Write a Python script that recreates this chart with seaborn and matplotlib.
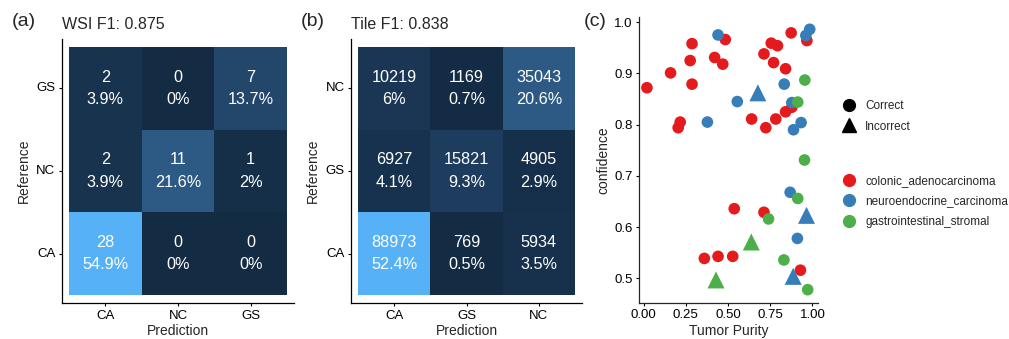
import numpy as np
import pandas as pd
import seaborn as sns
import matplotlib.pyplot as plt
from matplotlib.colors import LinearSegmentedColormap
from matplotlib.lines import Line2D

# =========================
# DATA
# =========================

# (a) WSI confusion matrix, rows top->bottom, cols left->right
wsi_rows = ["GS", "NC", "CA"]
wsi_cols = ["CA", "NC", "GS"]
wsi_counts = [[2, 0, 7],
              [2, 11, 1],
              [28, 0, 0]]

# (b) tile confusion matrix
tile_rows = ["NC", "GS", "CA"]
tile_cols = ["CA", "GS", "NC"]
tile_counts = [[10219, 1169, 35043],
               [6927, 15821, 4905],
               [88973, 769, 5934]]

# (c) scatter: tumor purity vs confidence
red_x = [0.02, 0.16, 0.276, 0.287, 0.287, 0.205, 0.217, 0.421, 0.469, 0.484,
         0.537, 0.36, 0.441, 0.528, 0.64, 0.713, 0.724, 0.713, 0.756, 0.77,
         0.793, 0.783, 0.841, 0.841, 0.878, 0.874, 0.967, 0.929]
red_y = [0.872, 0.901, 0.925, 0.958, 0.879, 0.794, 0.805, 0.931, 0.918, 0.966,
         0.636, 0.539, 0.543, 0.543, 0.811, 0.938, 0.794, 0.629, 0.959, 0.921,
         0.954, 0.811, 0.909, 0.825, 0.834, 0.979, 0.964, 0.516]
red_ok = ["Correct"] * 28

blue_x = [0.441, 0.555, 0.378, 0.833, 0.878, 0.888, 0.933, 0.961, 0.984, 0.868,
          0.911, 0.677, 0.965, 0.886]
blue_y = [0.975, 0.845, 0.805, 0.879, 0.843, 0.79, 0.804, 0.974, 0.986, 0.668,
          0.578, 0.862, 0.623, 0.504]
blue_ok = ["Correct"] * 11 + ["Incorrect"] * 3

green_x = [0.955, 0.913, 0.953, 0.913, 0.74, 0.831, 0.972, 0.638, 0.429]
green_y = [0.887, 0.844, 0.731, 0.656, 0.616, 0.536, 0.478, 0.571, 0.497]
green_ok = ["Correct"] * 7 + ["Incorrect"] * 2

tumor_types = ["colonic_adenocarcinoma", "neuroendocrine_carcinoma", "gastrointestinal_stromal"]
type_colors = ["#E41A1C", "#377EB8", "#4DAF4A"]

# =========================
# STYLE
# =========================

sns.set_style("ticks")
plt.rcParams["font.family"] = ["Liberation Sans", "DejaVu Sans"]
plt.rcParams["axes.linewidth"] = 0.9
plt.rcParams["xtick.major.width"] = 0.8
plt.rcParams["ytick.major.width"] = 0.8

gg_cmap = LinearSegmentedColormap.from_list(
    "gg", ["#132B43", "#23466B", "#336A98", "#448EC7", "#56B1F7"])

W, H = 1009, 339
fig = plt.figure(figsize=(W / 100, H / 100), dpi=100)


def px_axes(left, top, right, bottom):
    return fig.add_axes([left / W, 1 - bottom / H, (right - left) / W, (bottom - top) / H])


def confusion(ax, counts, rows, cols, title):
    counts = np.array(counts)
    total = counts.sum()
    labels = [[f"{c}\n{round(100 * c / total, 1):g}%" for c in row] for row in counts]
    df = pd.DataFrame(counts, index=rows, columns=cols)
    sns.heatmap(df, ax=ax, cmap=gg_cmap, cbar=False, annot=np.array(labels), fmt="",
                vmin=counts.min(), vmax=counts.max(),
                annot_kws={"color": "white", "fontsize": 11.7, "linespacing": 1.6})
    ax.set_xlim(-0.1, 3.1)
    ax.set_ylim(3.1, -0.1)
    for s in ["left", "bottom"]:
        ax.spines[s].set_visible(True)
        ax.spines[s].set_color("black")
    ax.tick_params(axis="both", labelsize=9.5, colors="black", pad=2, direction="out",
                   length=2.5, left=True, bottom=True)
    ax.tick_params(axis="y", rotation=0)
    ax.set_xlabel("Prediction", fontsize=10, labelpad=2)
    ax.set_ylabel("Reference", fontsize=10, labelpad=4)
    ax.set_title(title, loc="left", fontsize=11.5, pad=7)


ax1 = px_axes(61.7, 38.7, 294.3, 303.3)
confusion(ax1, wsi_counts, wsi_rows, wsi_cols, "WSI F1: 0.875")

ax2 = px_axes(350.8, 38.7, 582.2, 303.3)
confusion(ax2, tile_counts, tile_rows, tile_cols, "Tile F1: 0.838")

# =========================
# SCATTER
# =========================

pts = pd.DataFrame({
    "purity": red_x + blue_x + green_x,
    "confidence": red_y + blue_y + green_y,
    "type": [tumor_types[0]] * len(red_x) + [tumor_types[1]] * len(blue_x)
            + [tumor_types[2]] * len(green_x),
    "result": red_ok + blue_ok + green_ok,
})

ax3 = px_axes(639, 17, 818, 303)
pal = dict(zip(tumor_types, type_colors))
sns.scatterplot(data=pts[pts["result"] == "Correct"], x="purity", y="confidence",
                hue="type", palette=pal, marker="o", s=70, linewidth=0,
                legend=False, ax=ax3)
sns.scatterplot(data=pts[pts["result"] == "Incorrect"], x="purity", y="confidence",
                hue="type", palette=pal, marker="^", s=150, linewidth=0,
                legend=False, ax=ax3)
ax3.set_xlim(-0.027, 1.033)
ax3.set_ylim(0.452, 1.01)
ax3.set_xticks([0, 0.25, 0.5, 0.75, 1.0])
ax3.set_xticklabels(["0.00", "0.25", "0.50", "0.75", "1.00"])
ax3.set_yticks([0.5, 0.6, 0.7, 0.8, 0.9, 1.0])
ax3.set_yticklabels(["0.5", "0.6", "0.7", "0.8", "0.9", "1.0"])
ax3.tick_params(axis="both", labelsize=9.5, colors="black", pad=2, length=2.5)
ax3.set_xlabel("Tumor Purity", fontsize=10, labelpad=2)
ax3.set_ylabel("confidence", fontsize=10, labelpad=3)
sns.despine(ax=ax3)

shape_handles = [
    Line2D([], [], marker="o", color="black", linestyle="none", markersize=8.5),
    Line2D([], [], marker="^", color="black", linestyle="none", markersize=10),
]
fig.legend(shape_handles, ["Correct", "Incorrect"], loc="upper left",
           bbox_to_anchor=(832 / W, 1 - 95 / H), frameon=False, fontsize=8.5,
           handletextpad=0.4, labelspacing=0.75, borderaxespad=0)
color_handles = [Line2D([], [], marker="o", color=c, linestyle="none", markersize=8.5)
                 for c in type_colors]
fig.legend(color_handles, tumor_types, loc="upper left",
           bbox_to_anchor=(832 / W, 1 - 170 / H), frameon=False, fontsize=8.5,
           handletextpad=0.4, labelspacing=0.75, borderaxespad=0)

# panel letters
fig.text(12 / W, 1 - 21 / H, "(a)", fontsize=14, va="center", ha="left")
fig.text(301 / W, 1 - 21 / H, "(b)", fontsize=14, va="center", ha="left")
fig.text(584 / W, 1 - 21 / H, "(c)", fontsize=14, va="center", ha="left")

plt.savefig("out.png", dpi=100)
